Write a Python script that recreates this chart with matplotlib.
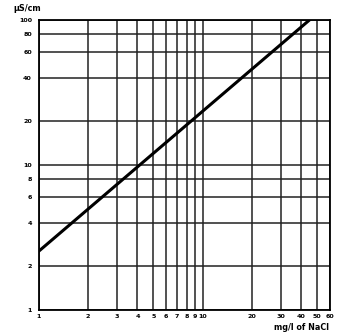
import matplotlib
matplotlib.use("Agg")
import matplotlib.pyplot as plt
from matplotlib.ticker import FixedLocator, NullLocator, FixedFormatter

nacl = [1, 45]
conductivity = [2.55, 100]
xticks = [1, 2, 3, 4, 5, 6, 7, 8, 9, 10, 20, 30, 40, 50, 60]
yticks = [1, 2, 4, 6, 8, 10, 20, 40, 60, 80, 100]

fig = plt.figure(figsize=(3.39, 3.34), dpi=100)
ax = fig.add_axes([0.115, 0.072, 0.858, 0.868])
ax.set_xscale('log')
ax.set_yscale('log')
ax.set_xlim(1, 60)
ax.set_ylim(1, 100)
ax.xaxis.set_major_locator(FixedLocator(xticks))
ax.xaxis.set_major_formatter(FixedFormatter([str(v) for v in xticks]))
ax.xaxis.set_minor_locator(NullLocator())
ax.yaxis.set_major_locator(FixedLocator(yticks))
ax.yaxis.set_major_formatter(FixedFormatter([str(v) for v in yticks]))
ax.yaxis.set_minor_locator(NullLocator())
ax.grid(True, color='#222222', linewidth=1.1)
ax.tick_params(axis='x', length=0, labelsize=4.6, pad=3)
ax.tick_params(axis='y', length=0, labelsize=4.6, pad=5)
for lab in ax.get_xticklabels() + ax.get_yticklabels():
    lab.set_fontweight('bold')
for s in ax.spines.values():
    s.set_linewidth(1.3)
ax.plot(nacl, conductivity, color='black', linewidth=2.2, clip_on=True)
fig.text(0.038, 0.975, 'µS/cm', fontsize=5.8, fontweight='bold', ha='left', va='center')
fig.text(0.97, 0.018, 'mg/l of NaCl', fontsize=5.8, fontweight='bold', ha='right', va='center')
fig.savefig('out.png', dpi=100)
